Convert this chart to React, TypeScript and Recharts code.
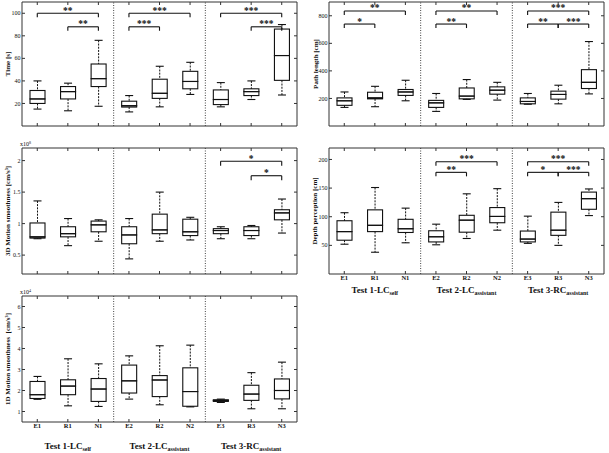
import React from "react";
import { ComposedChart, Bar, XAxis, YAxis, ReferenceLine } from "recharts";

const categories = ["E1", "R1", "N1", "E2", "R2", "N2", "E3", "R3", "N3"];
const groupMain = ["Test 1-LC", "Test 2-LC", "Test 3-RC"];
const groupSub = ["self", "assistant", "assistant"];

// Time [s]
const timeMin = [15, 13.5, 17.5, 12.5, 17, 28, 17, 23.5, 27.5];
const timeQ1 = [20, 24, 35, 16.8, 24.5, 33, 19, 27, 40.5];
const timeMed = [24, 30.5, 42, 18, 29, 39.5, 23.5, 30.5, 62.5];
const timeQ3 = [31.5, 35, 55, 22, 41.5, 48.5, 32, 33, 86];
const timeMax = [40, 38, 76, 27, 53, 56.5, 38.5, 40, 90];

// Path length [cm]
const pathMin = [135, 140, 183, 106, 193, 188, 158, 161, 233];
const pathQ1 = [150, 197, 222, 135, 197, 231, 161, 195, 272];
const pathMed = [183, 204, 247, 168, 217, 260, 178, 229, 317];
const pathQ3 = [204, 245, 265, 186, 276, 284, 204, 253, 409];
const pathMax = [247, 288, 332, 236, 337, 317, 236, 296, 613];

// 3D motion smoothness [x10^8 cm/s^3]
const sm3Min = [0.76, 0.65, 0.72, 0.44, 0.72, 0.74, 0.76, 0.76, 0.85];
const sm3Q1 = [0.77, 0.79, 0.87, 0.68, 0.84, 0.81, 0.84, 0.81, 1.06];
const sm3Med = [0.79, 0.84, 0.98, 0.82, 0.9, 0.87, 0.89, 0.89, 1.17];
const sm3Q3 = [1.01, 0.95, 1.04, 0.95, 1.15, 1.07, 0.92, 0.95, 1.22];
const sm3Max = [1.36, 1.08, 1.06, 1.08, 1.5, 1.1, 0.95, 0.97, 1.39];

// Depth perception [cm]
const depthMin = [52, 38, 54.5, 51, 62, 76.5, 53.5, 50, 102];
const depthQ1 = [59, 74, 72.5, 56, 73, 89.5, 56, 67.5, 113];
const depthMed = [74, 85, 79, 65, 94, 100.5, 61, 76.5, 131.5];
const depthQ3 = [93, 112, 95.5, 75.5, 102.5, 116, 75, 108, 143];
const depthMax = [107, 151, 115, 87, 140, 149, 101, 125, 148.5];

// 1D motion smoothness [x10^4 cm/s^3]
const sm1Min = [1.58, 1.27, 1.24, 1.59, 1.32, 1.22, 1.43, 1.13, 1.13];
const sm1Q1 = [1.62, 1.8, 1.48, 1.88, 1.71, 1.25, 1.48, 1.53, 1.6];
const sm1Med = [1.8, 2.21, 2.07, 2.46, 2.5, 1.95, 1.52, 1.83, 2.0];
const sm1Q3 = [2.43, 2.51, 2.57, 3.21, 2.71, 3.08, 1.56, 2.25, 2.55];
const sm1Max = [2.67, 3.51, 3.27, 3.65, 4.13, 4.16, 1.59, 2.85, 3.35];

type Sig = { from: string; to: string; y: number; stars: string };

const timeSig: Sig[] = [
  { from: "E1", to: "N1", y: 100, stars: "**" },
  { from: "R1", to: "N1", y: 88, stars: "**" },
  { from: "E2", to: "N2", y: 100, stars: "***" },
  { from: "E2", to: "R2", y: 88, stars: "***" },
  { from: "E3", to: "N3", y: 100, stars: "***" },
  { from: "R3", to: "N3", y: 88, stars: "***" },
];
const pathSig: Sig[] = [
  { from: "E1", to: "N1", y: 835, stars: "**" },
  { from: "E1", to: "R1", y: 740, stars: "*" },
  { from: "E2", to: "N2", y: 835, stars: "**" },
  { from: "E2", to: "R2", y: 740, stars: "**" },
  { from: "E3", to: "N3", y: 835, stars: "***" },
  { from: "E3", to: "R3", y: 740, stars: "**" },
  { from: "R3", to: "N3", y: 740, stars: "***" },
];
const sm3Sig: Sig[] = [
  { from: "E3", to: "N3", y: 1.99, stars: "*" },
  { from: "R3", to: "N3", y: 1.76, stars: "*" },
];
const depthSig: Sig[] = [
  { from: "E2", to: "N2", y: 196, stars: "***" },
  { from: "E2", to: "R2", y: 177.5, stars: "**" },
  { from: "E3", to: "N3", y: 196, stars: "***" },
  { from: "E3", to: "R3", y: 177.5, stars: "*" },
  { from: "R3", to: "N3", y: 177.5, stars: "***" },
];

const FONT = "'Liberation Serif', 'DejaVu Serif', serif";
const INK = "#111";
const FRAME = "#333";

function buildRows(mn: number[], q1: number[], md: number[], q3: number[], mx: number[]) {
  return categories.map((cat, i) => ({
    cat,
    base: mn[i],
    lowW: q1[i] - mn[i],
    lowBox: md[i] - q1[i],
    upBox: q3[i] - md[i],
    upW: mx[i] - q3[i],
  }));
}

const emptyShape = () => <g />;

const whiskerShape = (capAtTop: boolean) => (p: any) => {
  const t = Math.min(p.y, p.y + p.height);
  const b = Math.max(p.y, p.y + p.height);
  const cx = p.x + p.width / 2;
  const capY = capAtTop ? t : b;
  return (
    <g>
      <line x1={cx} x2={cx} y1={t} y2={b} stroke={INK} strokeDasharray="2 1.2" />
      <line x1={cx - 4} x2={cx + 4} y1={capY} y2={capY} stroke={INK} strokeWidth={1.1} />
    </g>
  );
};

const boxShape = (p: any) => {
  const t = Math.min(p.y, p.y + p.height);
  const h = Math.abs(p.height);
  return <rect x={p.x} y={t} width={p.width} height={h} fill="none" stroke={INK} strokeWidth={1.1} />;
};

const leftTick = (fmt: (v: number) => string) => (p: any) => (
  <g>
    <line x1={p.x} x2={p.x + 3} y1={p.y} y2={p.y} stroke={FRAME} />
    <text x={p.x - 1.5} y={p.y} dy="0.35em" textAnchor="end" fontSize={6} fontFamily={FONT} fill={INK}>
      {fmt(p.payload.value)}
    </text>
  </g>
);

const rightTick = (p: any) => <line x1={p.x} x2={p.x - 3} y1={p.y} y2={p.y} stroke={FRAME} />;

const topTick = (p: any) => <line x1={p.x} x2={p.x} y1={p.y} y2={p.y + 3} stroke={FRAME} />;

const bottomTick = (labels: boolean, groupDy: number) => (p: any) => {
  const i = p.index;
  const g = Math.floor(i / 3);
  return (
    <g>
      <line x1={p.x} x2={p.x} y1={p.y} y2={p.y - 3} stroke={FRAME} />
      {labels && (
        <text x={p.x} y={p.y + 6} textAnchor="middle" fontSize={6.5} fontWeight="bold" fontFamily={FONT} fill={INK}>
          {p.payload.value}
        </text>
      )}
      {labels && i % 3 === 1 && (
        <text x={p.x} y={p.y + groupDy} textAnchor="middle" fontSize={9} fontWeight="bold" fontFamily={FONT} fill={INK}>
          {groupMain[g]}
          <tspan fontSize={6} dy={2}>{groupSub[g]}</tspan>
        </text>
      )}
    </g>
  );
};

const titleLabel = (title: string, dx: number, exponent?: string) => (p: any) => {
  const vb = p.viewBox || {};
  const cx = vb.x + dx;
  const cy = vb.y + vb.height / 2;
  return (
    <g>
      <text
        x={cx}
        y={cy}
        transform={`rotate(-90 ${cx} ${cy})`}
        textAnchor="middle"
        dominantBaseline="central"
        fontSize={7}
        fontWeight="bold"
        fontFamily={FONT}
        fill={INK}
        style={{ whiteSpace: "pre" }}
      >
        {title}
      </text>
      {exponent && (
        <text x={vb.x + vb.width - 2} y={vb.y - 2} fontSize={6} fontFamily={FONT} fill={INK}>
          x10
          <tspan fontSize={4} dy={-2.5}>{exponent}</tspan>
        </text>
      )}
    </g>
  );
};

const starLabel = (stars: string) => (p: any) => {
  const vb = p.viewBox || {};
  return (
    <text
      x={vb.x + (vb.width || 0) / 2}
      y={vb.y + 0.5}
      textAnchor="middle"
      fontSize={9.5}
      fontWeight="bold"
      fontFamily={FONT}
      fill={INK}
    >
      {stars}
    </text>
  );
};

type PanelProps = {
  left: number;
  top: number;
  width: number;
  height: number;
  margin: { top: number; right: number; bottom: number; left: number };
  rows: any[];
  sig: Sig[];
  domain: [number, number];
  ticks: number[];
  fmt: (v: number) => string;
  title: string;
  titleDx: number;
  exponent?: string;
  yAxisWidth: number;
  xAxisHeight: number;
  labels: boolean;
  groupDy: number;
  drop: number;
};

function Panel(props: PanelProps) {
  const { left, top, width, height, margin, rows, sig, domain, ticks, fmt, title, titleDx, exponent, yAxisWidth, xAxisHeight, labels, groupDy, drop } = props;
  return (
    <div style={{ position: "absolute", left, top, width, height }}>
      <ComposedChart width={width} height={height} data={rows} margin={margin} barSize={15}>
        <XAxis
          dataKey="cat"
          height={xAxisHeight}
          interval={0}
          tickSize={0}
          tickMargin={0}
          tickLine={false}
          axisLine={{ stroke: FRAME }}
          tick={bottomTick(labels, groupDy)}
        />
        <XAxis
          xAxisId="top"
          dataKey="cat"
          orientation="top"
          height={1}
          interval={0}
          tickSize={0}
          tickMargin={0}
          tickLine={false}
          axisLine={{ stroke: FRAME }}
          tick={topTick}
        />
        <YAxis
          type="number"
          domain={domain}
          ticks={ticks}
          allowDataOverflow
          interval={0}
          width={yAxisWidth}
          tickSize={0}
          tickMargin={0}
          tickLine={false}
          axisLine={{ stroke: FRAME }}
          tick={leftTick(fmt)}
          label={titleLabel(title, titleDx, exponent)}
        />
        <YAxis
          yAxisId="right"
          orientation="right"
          type="number"
          domain={domain}
          ticks={ticks}
          allowDataOverflow
          interval={0}
          width={1}
          tickSize={0}
          tickMargin={0}
          tickLine={false}
          axisLine={{ stroke: FRAME }}
          tick={rightTick}
        />
        <ReferenceLine x="N1" position="end" stroke="#444" strokeDasharray="1 1.5" />
        <ReferenceLine x="N2" position="end" stroke="#444" strokeDasharray="1 1.5" />
        <Bar dataKey="base" stackId="box" shape={emptyShape} isAnimationActive={false} />
        <Bar dataKey="lowW" stackId="box" shape={whiskerShape(false)} isAnimationActive={false} />
        <Bar dataKey="lowBox" stackId="box" shape={boxShape} isAnimationActive={false} />
        <Bar dataKey="upBox" stackId="box" shape={boxShape} isAnimationActive={false} />
        <Bar dataKey="upW" stackId="box" shape={whiskerShape(true)} isAnimationActive={false} />
        {sig.map((s, i) => (
          <ReferenceLine
            key={`h${i}`}
            segment={[{ x: s.from, y: s.y }, { x: s.to, y: s.y }]}
            stroke={INK}
            strokeWidth={1.1}
            label={starLabel(s.stars)}
          />
        ))}
        {sig.map((s, i) => (
          <ReferenceLine key={`a${i}`} segment={[{ x: s.from, y: s.y }, { x: s.from, y: s.y - drop }]} stroke={INK} strokeWidth={1.1} />
        ))}
        {sig.map((s, i) => (
          <ReferenceLine key={`b${i}`} segment={[{ x: s.to, y: s.y }, { x: s.to, y: s.y - drop }]} stroke={INK} strokeWidth={1.1} />
        ))}
      </ComposedChart>
    </div>
  );
}

const num = (v: number) => String(v);

export default function App() {
  return (
    <div style={{ position: "absolute", left: 0, top: 0, width: 609, height: 453, background: "#fff" }}>
      <Panel
        left={0} top={0} width={300} height={128}
        margin={{ top: 1, right: 2, bottom: 1, left: 0 }}
        rows={buildRows(timeMin, timeQ1, timeMed, timeQ3, timeMax)}
        sig={timeSig} domain={[0, 110]} ticks={[20, 40, 60, 80, 100]} fmt={num}
        title="Time [s]" titleDx={7.5} yAxisWidth={22} xAxisHeight={1}
        labels={false} groupDy={0} drop={3.5}
      />
      <Panel
        left={300} top={0} width={309} height={128}
        margin={{ top: 1, right: 4, bottom: 1, left: 0 }}
        rows={buildRows(pathMin, pathQ1, pathMed, pathQ3, pathMax)}
        sig={pathSig} domain={[0, 900]} ticks={[200, 400, 600, 800]} fmt={num}
        title="Path length [cm]" titleDx={15.5} yAxisWidth={29} xAxisHeight={1}
        labels={false} groupDy={0} drop={29}
      />
      <Panel
        left={0} top={138} width={300} height={138}
        margin={{ top: 9, right: 2, bottom: 1, left: 0 }}
        rows={buildRows(sm3Min, sm3Q1, sm3Med, sm3Q3, sm3Max)}
        sig={sm3Sig} domain={[0.2, 2.2]} ticks={[0.5, 1, 1.5, 2]} fmt={num}
        title="3D Motion smoothness [cm/s³]" titleDx={8} exponent="8" yAxisWidth={22} xAxisHeight={1}
        labels={false} groupDy={0} drop={0.07}
      />
      <Panel
        left={300} top={138} width={309} height={163}
        margin={{ top: 9, right: 4, bottom: 0, left: 0 }}
        rows={buildRows(depthMin, depthQ1, depthMed, depthQ3, depthMax)}
        sig={depthSig} domain={[0, 220]} ticks={[50, 100, 150, 200]} fmt={num}
        title="Depth perception [cm]" titleDx={15} yAxisWidth={29} xAxisHeight={27}
        labels={true} groupDy={19} drop={7}
      />
      <Panel
        left={0} top={286} width={300} height={167}
        margin={{ top: 9, right: 2, bottom: 0, left: 0 }}
        rows={buildRows(sm1Min, sm1Q1, sm1Med, sm1Q3, sm1Max)}
        sig={[]} domain={[0.5, 6.5]} ticks={[1, 2, 3, 4, 5, 6]} fmt={num}
        title="1D Motion smoothness  [cm/s³]" titleDx={7.5} exponent="4" yAxisWidth={22} xAxisHeight={31}
        labels={true} groupDy={27} drop={0}
      />
    </div>
  );
}
